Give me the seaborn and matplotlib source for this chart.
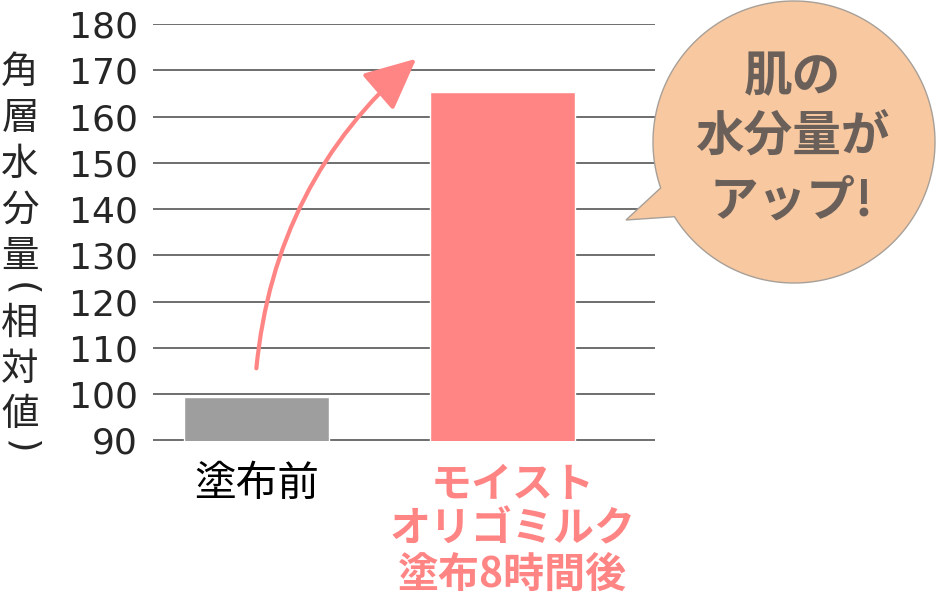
import numpy as np
import pandas as pd
import matplotlib
matplotlib.use("Agg")
import matplotlib.pyplot as plt
import matplotlib.transforms as mtransforms
from matplotlib.patches import Polygon
import seaborn as sns

# ---- data ----
categories = ["塗布前", "モイスト\nオリゴミルク\n塗布8時間後"]
values = [99.4, 165.3]
bar_colors = ["#9E9E9E", "#FF8585"]
y_ticks = [90, 100, 110, 120, 130, 140, 150, 160, 170, 180]
ylabel_chars = ["角", "層", "水", "分", "量", "(", "相", "対", "値", ")"]
bubble_lines = ["肌の", "水分量が", "アップ!"]

sns.set_style("white")
plt.rcParams['font.family'] = ['Noto Sans CJK JP', 'DejaVu Sans']

W, H = 937, 597
fig = plt.figure(figsize=(W / 100, H / 100), dpi=100)
ax = fig.add_axes([153 / W, 1 - 440.5 / H, (655 - 153) / W, (440.5 - 24) / H])

df = pd.DataFrame({"cat": categories, "val": values})
sns.barplot(data=df, x="cat", y="val", hue="cat", palette=bar_colors,
            width=0.59, ax=ax, legend=False, saturation=1)

ax.set_ylim(90, 180)
ax.set_xlim(-0.42, 1.62)
ax.set_yticks(y_ticks)
ax.set_yticklabels([str(t) for t in y_ticks], fontsize=26,
                   family=["DejaVu Sans"])
ax.tick_params(axis="y", length=0, pad=11)
ax.tick_params(axis="x", length=0, pad=17)
ax.set_xlabel("")
ax.set_ylabel("")
for s in ax.spines.values():
    s.set_visible(False)
ax.set_axisbelow(True)
ax.yaxis.grid(True, color="#555555", lw=1.2)
ax.xaxis.grid(False)

xl = ax.get_xticklabels()
xl[0].set_fontsize(30)
xl[0].set_color("black")
xl[1].set_fontsize(29.5)
xl[1].set_color("#FF8585")
xl[1].set_fontweight("bold")
xl[1].set_linespacing(1.08)
xl[1].set_transform(xl[1].get_transform() +
                    mtransforms.ScaledTranslation(10 / 100, 0, fig.dpi_scale_trans))

# curved arrow
ax.annotate("", xy=(0.65, 172.5), xytext=(0.0, 105.6),
            arrowprops=dict(arrowstyle="-|>,head_length=1.6,head_width=0.75",
                            mutation_scale=20, color="#FF8585", lw=3,
                            shrinkA=0, shrinkB=0,
                            connectionstyle="arc3,rad=-0.2"))

# y label, stacked vertically (parentheses turned for vertical writing)
ys = [72, 118, 164, 210, 256, 289, 323, 369, 414, 447]
for ch, yy in zip(ylabel_chars, ys):
    if ch in "()":
        fig.text(20 / W, 1 - yy / H, ch, fontsize=27, ha="center", va="center",
                 rotation=-90, family=["DejaVu Sans"])
    else:
        fig.text(20 / W, 1 - yy / H, ch, fontsize=27, ha="center", va="center")

# overlay for the speech bubble
ov = fig.add_axes([0, 0, 1, 1], zorder=5)
ov.set_xlim(0, W)
ov.set_ylim(H, 0)
ov.axis("off")
ov.patch.set_alpha(0)
cx, cy, r = 794, 142, 141
a0, a1 = np.deg2rad(161), np.deg2rad(148 + 360)
th = np.linspace(a0, a1, 300)
pts = np.column_stack([cx + r * np.cos(th), cy + r * np.sin(th)])
pts = np.vstack([pts, [[626, 220]]])
ov.add_patch(Polygon(pts, closed=True, facecolor="#F8C8A0",
                     edgecolor="#A8A098", lw=1))
for line, yy in zip(bubble_lines, [77, 137, 201]):
    ov.text(792, yy, line, fontsize=35, fontweight="bold", color="#6B6059",
            ha="center", va="center")

fig.savefig("out.png", dpi=100)
